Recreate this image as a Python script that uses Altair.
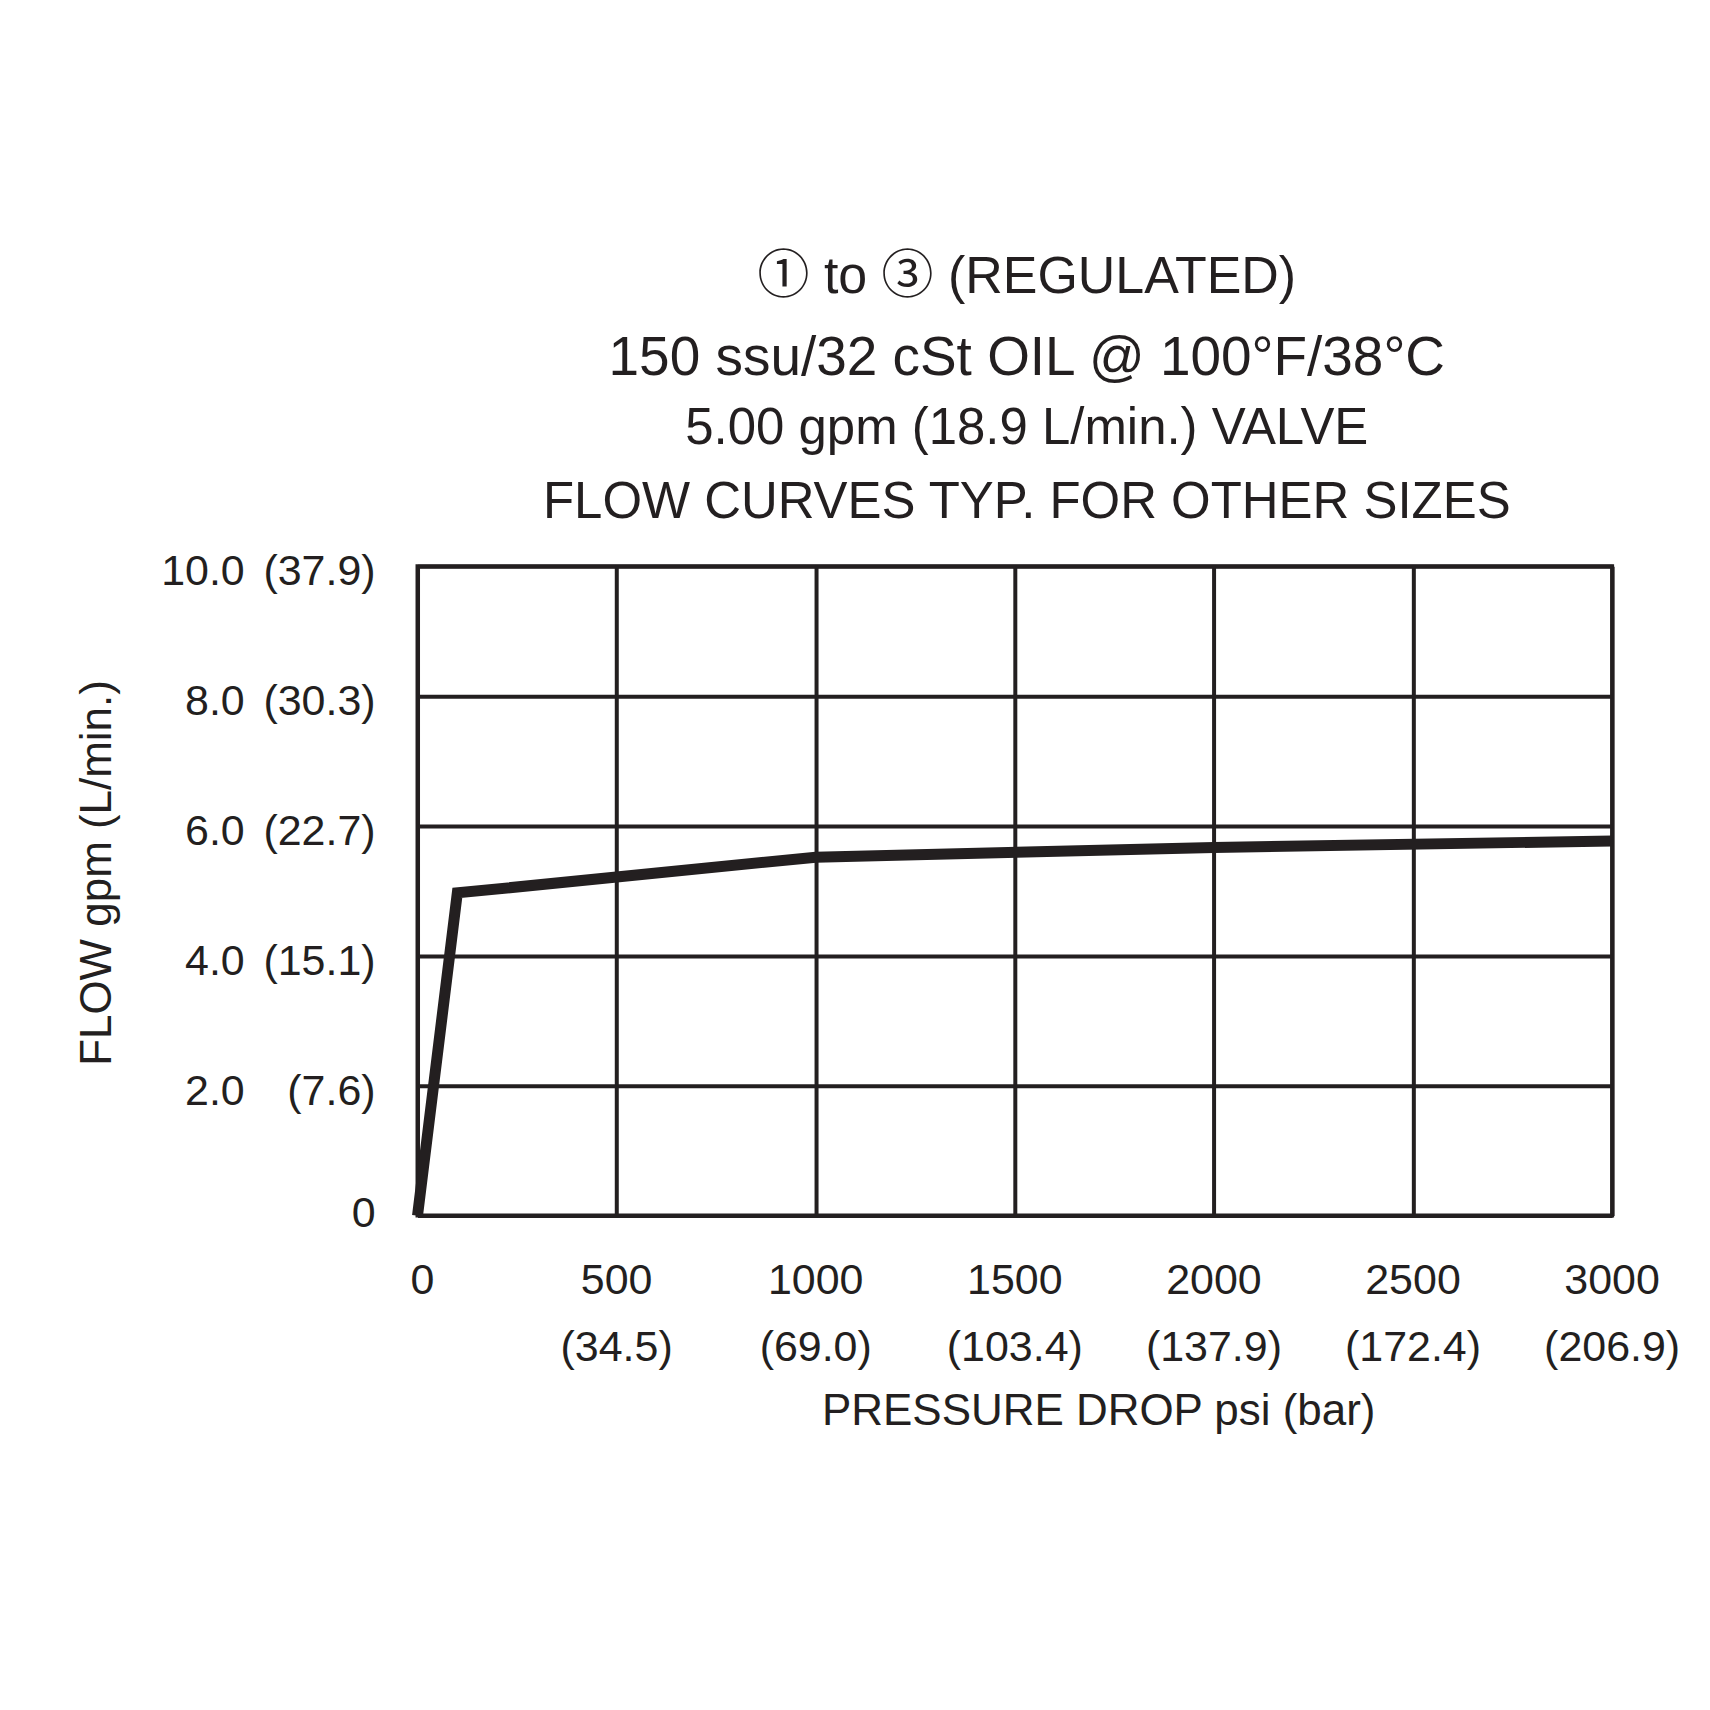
import altair as alt
import pandas as pd

# ---- data ----
psi = [0, 100, 1000, 2000, 3000]
flow_gpm = [0.0, 4.97, 5.52, 5.67, 5.77]

x_ticks = [0, 500, 1000, 1500, 2000, 2500, 3000]
x_psi_labels = ["0", "500", "1000", "1500", "2000", "2500", "3000"]
x_bar_labels = ["", "(34.5)", "(69.0)", "(103.4)", "(137.9)", "(172.4)", "(206.9)"]

y_ticks = [0, 2, 4, 6, 8, 10]
y_gpm_labels = ["", "2.0", "4.0", "6.0", "8.0", "10.0"]
y_lmin_labels = ["0", "(7.6)", "(15.1)", "(22.7)", "(30.3)", "(37.9)"]

title_lines = [
    "\u2460 to \u2462 (REGULATED)",
    "150 ssu/32 cSt OIL @ 100\u00b0F/38\u00b0C",
    "5.00 gpm (18.9 L/min.) VALVE",
    "FLOW CURVES TYP. FOR OTHER SIZES",
]
x_title = "PRESSURE DROP psi (bar)"
y_title = "FLOW gpm (L/min.)"

INK = "#231f20"
FONT = "Liberation Sans, Arial, Helvetica, Noto Sans CJK JP"
W, H = 1196, 650

xscale = alt.Scale(domain=[0, 3000], nice=False, zero=False)
yscale = alt.Scale(domain=[0, 10], nice=False, zero=False)
xaxis = alt.Axis(values=x_ticks, grid=True, labels=False, ticks=False,
                 domain=False, title=None, gridColor=INK, gridWidth=4, gridOpacity=1)
yaxis = alt.Axis(values=y_ticks, grid=True, labels=False, ticks=False,
                 domain=False, title=None, gridColor=INK, gridWidth=4, gridOpacity=1)

curve = pd.DataFrame({"psi": psi, "gpm": flow_gpm})
line = alt.Chart(curve).mark_line(
    color=INK, strokeWidth=11, strokeJoin="miter", strokeCap="butt"
).encode(
    x=alt.X("psi:Q", scale=xscale, axis=xaxis),
    y=alt.Y("gpm:Q", scale=yscale, axis=yaxis),
)

xl = pd.DataFrame({"v": x_ticks, "a": x_psi_labels, "b": x_bar_labels})
x_row1 = alt.Chart(xl).transform_filter("datum.v > 0").mark_text(
    font=FONT, fontSize=43, color=INK, baseline="middle").encode(
    x=alt.X("v:Q", scale=xscale, axis=xaxis), y=alt.value(H + 66), text="a:N")
x_row1_zero = alt.Chart(xl).transform_filter("datum.v == 0").mark_text(
    font=FONT, fontSize=43, color=INK, baseline="middle", dx=5).encode(
    x=alt.X("v:Q", scale=xscale, axis=xaxis), y=alt.value(H + 66), text="a:N")
x_row2 = alt.Chart(xl).mark_text(font=FONT, fontSize=43, color=INK, baseline="middle").encode(
    x=alt.X("v:Q", scale=xscale, axis=xaxis), y=alt.value(H + 133), text="b:N")

yl = pd.DataFrame({"v": y_ticks, "a": y_gpm_labels, "b": y_lmin_labels})
y_col1 = alt.Chart(yl).mark_text(font=FONT, fontSize=43, color=INK, align="right",
                                 baseline="middle", dy=6).encode(
    y=alt.Y("v:Q", scale=yscale, axis=yaxis), x=alt.value(-173), text="a:N")
y_col2 = alt.Chart(yl).transform_filter("datum.v > 0").mark_text(
    font=FONT, fontSize=43, color=INK, align="right", baseline="middle", dy=6).encode(
    y=alt.Y("v:Q", scale=yscale, axis=yaxis), x=alt.value(-42), text="b:N")
y_col2_zero = alt.Chart(yl).transform_filter("datum.v == 0").mark_text(
    font=FONT, fontSize=43, color=INK, align="right", baseline="middle", dy=-2).encode(
    y=alt.Y("v:Q", scale=yscale, axis=yaxis), x=alt.value(-42), text="b:N")

xt = alt.Chart(pd.DataFrame({"t": [x_title]})).mark_text(
    font=FONT, fontSize=44, color=INK, baseline="middle").encode(
    x=alt.value(682), y=alt.value(H + 197), text="t:N")
yt = alt.Chart(pd.DataFrame({"t": [y_title]})).mark_text(
    font=FONT, fontSize=44, color=INK, baseline="middle", angle=270).encode(
    x=alt.value(-320), y=alt.value(307), text="t:N")

title_y = [-290, -209, -137, -63]
title_size = [52, 55, 51, 51]
title_font = ["Liberation Sans, Noto Sans CJK JP", FONT, FONT, FONT]
title_layers = []
for txt, ty, ts, tf in zip(title_lines, title_y, title_size, title_font):
    title_layers.append(
        alt.Chart(pd.DataFrame({"t": [txt]})).mark_text(
            font=tf, fontSize=ts, color=INK, baseline="middle").encode(
            x=alt.value(610), y=alt.value(ty), text="t:N")
    )

chart = alt.layer(line, x_row1, x_row1_zero, x_row2, y_col1, y_col2, y_col2_zero,
                  xt, yt, *title_layers).properties(
    width=W, height=H,
    padding={"left": 410, "top": 558, "right": 90, "bottom": 486},
    autosize=alt.AutoSizeParams(type="none"),
    background="white",
).configure_view(stroke=INK, strokeWidth=4)

chart.save("out.html", embed_options={"renderer": "svg", "actions": False})
